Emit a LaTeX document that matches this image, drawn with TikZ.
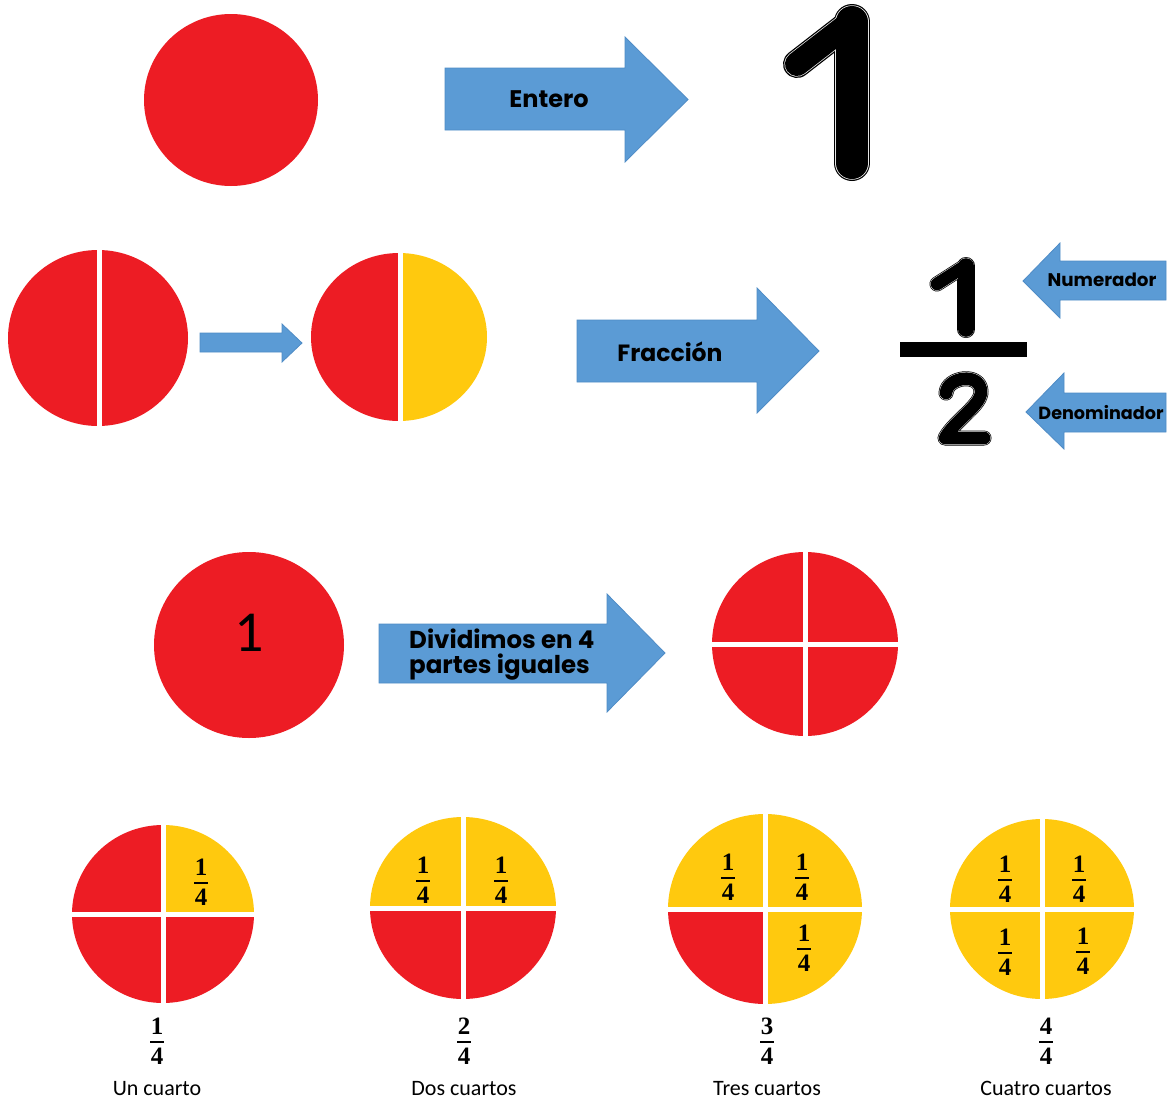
\documentclass[tikz,border=0pt]{standalone}
\usepackage{fontspec}
\setmainfont{Carlito}
\newfontfamily\arrowfont{Poppins}
\newfontfamily\fracfont{Liberation Serif}
\definecolor{pred}{HTML}{ED1C24}
\definecolor{pyel}{HTML}{FFC90E}
\definecolor{pblue}{HTML}{5B9BD5}
\definecolor{pblueline}{HTML}{4F8CC6}
\tikzset{
  blockarrow/.style={fill=pblue, draw=pblueline, line width=0.8pt, line join=miter},
  arrowtext/.style={font=\arrowfont\bfseries\fontsize{#1}{#1}\selectfont, text=black, inner sep=0pt},
  gapline/.style={white, line width=5pt},
  lbl/.style={font=\fontsize{22}{24}\selectfont, anchor=base, inner sep=0pt},
  fdig/.style={font=\fracfont\bfseries\fontsize{25}{25}\selectfont, anchor=base, inner sep=0pt},
  fbar/.style={line width=2pt},
  glyph/.style={black, line width=#1, line cap=round, line join=round},
  glyphring/.style={white!80!gray, line width=#1, line cap=round, line join=round},
}
\newcommand\qfr[5]{%
  \node[fdig] (#1n) at (#2,#3-8) {#4};
  \node[fdig] (#1d) at (#2,#3+22) {#5};
  \draw[fbar] (#2-7,#3) -- (#2+7,#3);
}
\newcommand\qcirc[9]{%
  \begin{scope}
    \clip (#2,#3) ellipse [x radius=#4, y radius=#5];
    \fill[#6] (#2-#4-1,#3-#5-1) rectangle (#2,#3);
    \fill[#7] (#2,#3-#5-1) rectangle (#2+#4+1,#3);
    \fill[#8] (#2-#4-1,#3) rectangle (#2,#3+#5+1);
    \fill[#9] (#2,#3) rectangle (#2+#4+1,#3+#5+1);
  \end{scope}
  \coordinate (#1) at (#2,#3);
  \draw[gapline] (#2,#3-#5-2) -- (#2,#3+#5+2);
  \draw[gapline] (#2-#4-2,#3) -- (#2+#4+2,#3);
}
\newcommand\twopath{(946,393) .. controls (947,377) and (980,372) .. (981,391) .. controls (982,405) and (955,420) .. (945,438) -- (984,438)}
\begin{document}
\begin{tikzpicture}[x=1pt,y=-1pt]
\useasboundingbox[fill=white] (0,0) rectangle (1168,1101);

% ---------- Row 1 ----------
\fill[pred] (231,100) ellipse [x radius=87, y radius=86];
\coordinate (whole) at (231,100);
\draw[blockarrow] (445,68) -- (625,68) -- (625,37) -- (688,99.5) -- (625,162) -- (625,130) -- (445,130) -- cycle;
\node[arrowtext=24] (entero) at (549,99) {Entero};
% big 1
\draw[glyph=36pt] (852,22) -- (852,163);
\draw[glyph=28pt] (846,26) -- (797,64);
\draw[glyphring=33.5pt] (852,22) -- (852,163);
\draw[glyphring=25.5pt] (846,26) -- (797,64);
\draw[glyph=32pt] (852,22) -- (852,163);
\draw[glyph=24pt] (846,26) -- (797,64);

% ---------- Row 2 ----------
\fill[pred] (98,338) ellipse [x radius=90, y radius=88];
\draw[gapline] (99.5,248) -- (99.5,429);
\draw[blockarrow] (200,333) -- (282,333) -- (282,324) -- (302,343) -- (282,362) -- (282,352) -- (200,352) -- cycle;
\begin{scope}
  \clip (399,337) ellipse [x radius=88, y radius=84];
  \fill[pred] (310,252) rectangle (400.5,422);
  \fill[pyel] (400.5,252) rectangle (488,422);
\end{scope}
\draw[gapline] (400.5,251) -- (400.5,423);
\draw[blockarrow] (577,320) -- (757,320) -- (757,288) -- (819,351) -- (757,413) -- (757,382) -- (577,382) -- cycle;
\node[arrowtext=23.5] (fraccion) at (670,352) {Fracción};
% fraction 1/2
\draw[glyph=18pt] (966,266) -- (966,329);
\draw[glyph=15pt] (962,268) -- (937,284);
\draw[glyph=15pt] \twopath;
\draw[glyphring=16.6pt] (966,266) -- (966,329);
\draw[glyphring=13.6pt] (962,268) -- (937,284);
\draw[glyphring=13.6pt] \twopath;
\draw[glyph=15.6pt] (966,266) -- (966,329);
\draw[glyph=12.6pt] (962,268) -- (937,284);
\draw[glyph=12.6pt] \twopath;
\fill (900,342) rectangle (1027,357);
\draw[blockarrow] (1166,261) -- (1060,261) -- (1060,243) -- (1023,281) -- (1060,318) -- (1060,300) -- (1166,300) -- cycle;
\node[arrowtext=18.3] (numerador) at (1102,280) {Numerador};
\draw[blockarrow] (1166,393) -- (1064,393) -- (1064,373) -- (1026,412) -- (1064,449) -- (1064,432) -- (1166,432) -- cycle;
\node[arrowtext=17.6] (denominador) at (1101,413) {Denominador};

% ---------- Row 3 ----------
\fill[pred] (249,645) ellipse [x radius=95, y radius=93];
\node[lbl, font=\fontsize{58}{58}\selectfont] (uno) at (249,651) {1};
\draw[blockarrow] (379,624) -- (607,624) -- (607,594) -- (665,653) -- (607,712) -- (607,683) -- (379,683) -- cycle;
\node[arrowtext=24.5, anchor=base west] (div1) at (409,648) {Dividimos en 4};
\node[arrowtext=24.5, anchor=base west] (div2) at (409,673) {partes iguales};
\qcirc{quarters}{805}{644}{93}{92}{pred}{pred}{pred}{pred}

% ---------- Row 4 ----------
\qcirc{c1}{163}{914}{91}{89}{pred}{pyel}{pred}{pred}
\qfr{c1a}{201}{883}{1}{4}
\qcirc{c2}{463}{908}{93}{91}{pyel}{pyel}{pred}{pred}
\qfr{c2a}{423}{881}{1}{4}
\qfr{c2b}{501}{881}{1}{4}
\qcirc{c3}{765}{909}{97}{95}{pyel}{pyel}{pred}{pyel}
\qfr{c3a}{728}{878}{1}{4}
\qfr{c3b}{802}{878}{1}{4}
\qfr{c3c}{804}{949}{1}{4}
\qcirc{c4}{1042}{909}{92}{90}{pyel}{pyel}{pyel}{pyel}
\qfr{c4a}{1005}{880}{1}{4}
\qfr{c4b}{1079}{880}{1}{4}
\qfr{c4c}{1005}{953}{1}{4}
\qfr{c4d}{1083}{952}{1}{4}

\qfr{f1}{157}{1042}{1}{4}
\qfr{f2}{464}{1042}{2}{4}
\qfr{f3}{767}{1042}{3}{4}
\qfr{f4}{1046}{1042}{4}{4}
\node[lbl] (l1) at (157,1095) {Un cuarto};
\node[lbl] (l2) at (464,1095) {Dos cuartos};
\node[lbl] (l3) at (767,1095) {Tres cuartos};
\node[lbl] (l4) at (1046,1095) {Cuatro cuartos};
\end{tikzpicture}
\end{document}
